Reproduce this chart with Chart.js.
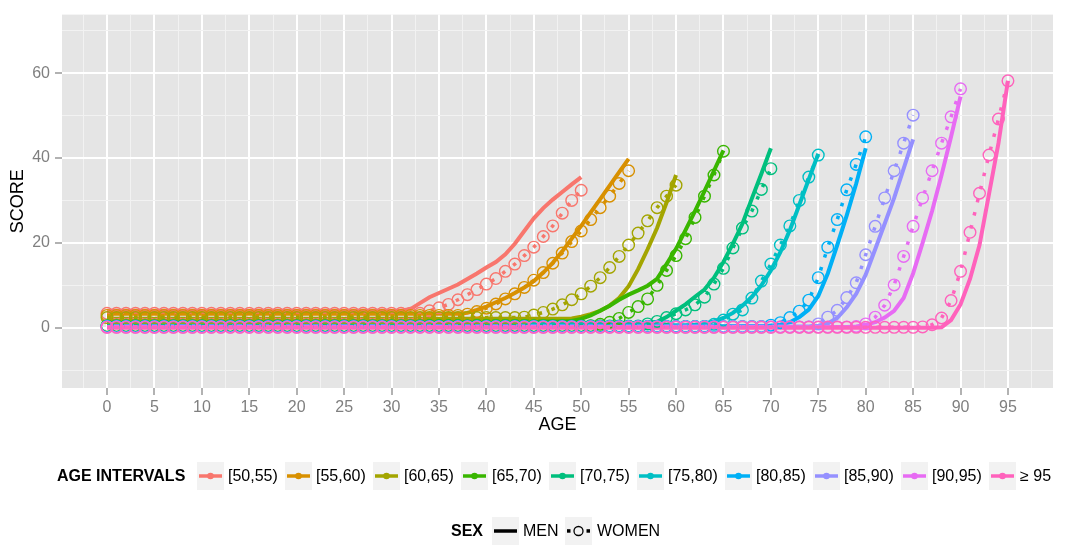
<!DOCTYPE html>
<html>
<head>
<meta charset="utf-8">
<script src="https://cdn.jsdelivr.net/npm/chart.js@4.4.0/dist/chart.umd.min.js"></script>
<style>
  body { margin: 0; background: #fff; font-family: "Liberation Sans", Arial, sans-serif; }
  #wrap { position: relative; width: 1065px; height: 545px; }
  .lg { position: absolute; font-size: 16px; color: #000; line-height: 28px; height: 28px; white-space: nowrap; }
  .lg svg { position: absolute; left: 0; top: 0; }
  .ttl { font-weight: bold; }
</style>
</head>
<body>
<div id="wrap">
  <canvas id="scoreChart" width="1065" height="545"></canvas>
</div>
<script>
// age groups and ggplot hue colours
const intervals = ['[50,55)', '[55,60)', '[60,65)', '[65,70)', '[70,75)', '[75,80)', '[80,85)', '[85,90)', '[90,95)', '≥ 95'];
const colors = ['#F8766D', '#D89000', '#A3A500', '#39B600', '#00BF7D', '#00BFC4', '#00B0F6', '#9590FF', '#E76BF3', '#FF62BC'];

// men: flat score from age 0, first age off the flat part, then one value per year up to the end age
const menFlat = [4.0, 3.3, 2.1, 1.5, 1.0, 0.6, 0.4, 0.3, 0.2, 0.0];
const menRiseFrom = [32, 38, 49, 49, 57, 62, 70, 75, 79, 88];
const menRise = [
  [4.4, 5.8, 7.2, 8.2, 9.2, 10.2, 11.5, 12.8, 14.2, 15.5, 17.3, 19.8, 22.8, 25.8, 28.2, 30.2, 32.0, 33.8, 35.5],
  [3.5, 4.2, 5.0, 6.0, 7.0, 8.2, 9.5, 11.0, 13.0, 15.3, 18.0, 21.0, 24.0, 27.2, 30.3, 33.5, 36.7, 39.8],
  [2.2, 2.6, 3.2, 4.0, 5.2, 7.0, 9.8, 13.8, 18.5, 23.5, 29.5, 36.0],
  [1.6, 2.1, 2.9, 4.0, 5.2, 6.6, 7.8, 8.8, 9.9, 11.5, 15.0, 18.6, 23.0, 27.5, 32.2, 37.0, 41.8],
  [1.1, 1.4, 2.5, 4.0, 5.5, 7.3, 9.0, 11.8, 15.5, 19.8, 24.5, 30.5, 36.3, 42.3],
  [0.7, 1.0, 1.5, 2.3, 3.5, 5.2, 7.3, 10.0, 13.5, 17.8, 23.0, 29.0, 35.0, 41.0],
  [0.5, 0.7, 1.3, 2.5, 4.3, 7.5, 12.8, 19.5, 26.5, 34.0, 42.3],
  [0.5, 1.0, 2.3, 4.8, 8.0, 12.5, 18.5, 24.5, 30.6, 37.5, 44.4],
  [0.3, 0.7, 1.3, 2.4, 4.0, 7.0, 12.8, 20.0, 27.5, 36.0, 45.0, 54.5],
  [0.1, 1.8, 5.5, 11.5, 19.5, 31.5, 43.5, 58.2]
];

// women: same layout
const womenFlat = [3.4, 2.9, 2.4, 0.5, 0.4, 0.3, 0.3, 0.2, 0.2, 0.1];
const womenRiseFrom = [34, 38, 44, 52, 57, 64, 70, 75, 79, 86];
const womenRise = [
  [4.0, 4.7, 5.5, 6.6, 7.8, 9.0, 10.3, 11.6, 13.3, 15.0, 17.0, 19.0, 21.5, 24.0, 27.0, 30.0, 32.4],
  [3.2, 3.8, 4.6, 5.6, 6.8, 8.0, 9.5, 11.2, 13.0, 15.2, 17.6, 20.3, 22.8, 25.5, 28.3, 31.0, 34.0, 37.0],
  [2.5, 3.0, 3.6, 4.4, 5.4, 6.6, 8.0, 9.8, 11.8, 14.2, 16.8, 19.5, 22.3, 25.2, 28.3, 31.0, 33.6],
  [0.8, 1.3, 2.2, 3.6, 5.0, 6.8, 10.0, 13.5, 17.0, 21.0, 26.0, 31.0, 36.0, 41.6],
  [0.9, 1.5, 2.4, 3.3, 4.2, 5.4, 7.2, 10.3, 14.0, 18.8, 23.5, 27.5, 32.6, 37.5],
  [0.8, 1.8, 3.2, 4.2, 7.0, 11.0, 15.0, 19.5, 24.0, 30.0, 35.5, 40.7],
  [0.6, 1.2, 2.4, 3.9, 6.5, 11.8, 19.0, 25.5, 32.5, 38.5, 45.0],
  [0.9, 2.5, 4.1, 7.1, 10.6, 17.2, 23.9, 30.6, 37.0, 43.5, 50.1],
  [0.3, 0.9, 2.5, 5.3, 10.1, 16.8, 23.9, 30.6, 37.0, 43.5, 49.7, 56.3],
  [0.2, 0.7, 2.3, 6.4, 13.3, 22.5, 31.7, 40.7, 49.2, 58.2]
];

const xTickLabels = [0, 5, 10, 15, 20, 25, 30, 35, 40, 45, 50, 55, 60, 65, 70, 75, 80, 85, 90, 95];
const yTickLabels = [0, 20, 40, 60];

function toPoints(flat, from, rise) {
  const pts = [];
  for (let age = 0; age < from; age++) pts.push({ x: age, y: flat });
  rise.forEach((v, i) => pts.push({ x: from + i, y: v }));
  return pts;
}

// major grid at labelled ticks, minor halfway between
const xGrid = [];
xTickLabels.forEach(v => { xGrid.push(v - 2.5, v); });
xGrid.push(97.5);
const yGrid = [];
yTickLabels.forEach(v => { yGrid.push(v - 10, v); });
yGrid.push(70);

const datasets = [];
intervals.forEach((name, i) => {
  datasets.push({
    label: name + ' MEN',
    data: toPoints(menFlat[i], menRiseFrom[i], menRise[i]),
    borderColor: colors[i],
    borderWidth: 4,
    pointRadius: 0,
    tension: 0,
    order: 100 - i
  });
  datasets.push({
    label: name + ' WOMEN',
    data: toPoints(womenFlat[i], womenRiseFrom[i], womenRise[i]),
    borderColor: colors[i],
    borderWidth: 3.5,
    borderDash: [3.5, 10],
    borderCapStyle: 'butt',
    pointRadius: 5.8,
    pointBorderWidth: 1.4,
    pointBorderColor: colors[i],
    pointBackgroundColor: 'rgba(0,0,0,0)',
    tension: 0,
    order: 50 - i
  });
});

const panelBg = {
  id: 'panelBg',
  beforeDraw(chart) {
    const { ctx, chartArea: a } = chart;
    ctx.save();
    ctx.fillStyle = '#E5E5E5';
    ctx.fillRect(a.left, a.top, a.right - a.left, a.bottom - a.top);
    ctx.restore();
  }
};

function gridStyle(labels) {
  return {
    color: c => labels.includes(c.tick.value) ? '#FFFFFF' : '#F2F2F2',
    lineWidth: c => labels.includes(c.tick.value) ? 2 : 1,
    tickColor: c => labels.includes(c.tick.value) ? '#7F7F7F' : 'rgba(0,0,0,0)',
    tickWidth: 1.2,
    tickLength: 7
  };
}

new Chart(document.getElementById('scoreChart').getContext('2d'), {
  type: 'line',
  data: { datasets },
  options: {
    responsive: false,
    animation: false,
    layout: { padding: { left: 0, top: 5, right: 12, bottom: 109 } },
    plugins: { legend: { display: false }, tooltip: { enabled: false } },
    scales: {
      x: {
        type: 'linear',
        min: -4.75,
        max: 99.75,
        afterBuildTicks: s => { s.ticks = xGrid.map(v => ({ value: v })); },
        afterFit: s => { s.height = 48; },
        ticks: {
          autoSkip: false,
          maxRotation: 0,
          padding: 3,
          color: '#7F7F7F',
          font: { family: 'Liberation Sans', size: 16 },
          callback: v => xTickLabels.includes(v) ? String(v) : ''
        },
        grid: gridStyle(xTickLabels),
        border: { display: false },
        title: { display: true, text: 'AGE', color: '#000', font: { family: 'Liberation Sans', size: 18 }, padding: { top: 0, bottom: 0 } }
      },
      y: {
        min: -14.2,
        max: 73.8,
        afterBuildTicks: s => { s.ticks = yGrid.map(v => ({ value: v })); },
        afterFit: s => { s.width = 62; },
        ticks: {
          autoSkip: false,
          padding: 5,
          color: '#7F7F7F',
          font: { family: 'Liberation Sans', size: 16 },
          callback: v => yTickLabels.includes(v) ? String(v) : ''
        },
        grid: gridStyle(yTickLabels),
        border: { display: false },
        title: { display: true, text: 'SCORE', color: '#000', font: { family: 'Liberation Sans', size: 18 }, padding: { top: 7.5, bottom: 0 } }
      }
    }
  },
  plugins: [panelBg]
});

// legends below the panel
const wrap = document.getElementById('wrap');
function addText(text, left, top, bold) {
  const d = document.createElement('div');
  d.className = 'lg' + (bold ? ' ttl' : '');
  d.style.left = left + 'px';
  d.style.top = top + 'px';
  d.textContent = text;
  wrap.appendChild(d);
}
function addKey(inner, left, top) {
  const d = document.createElement('div');
  d.className = 'lg';
  d.style.left = left + 'px';
  d.style.top = top + 'px';
  d.style.width = '27px';
  d.innerHTML = '<svg width="27" height="28"><rect width="27" height="28" fill="#F2F2F2"/>' + inner + '</svg>';
  wrap.appendChild(d);
}

addText('AGE INTERVALS', 57, 462, true);
intervals.forEach((name, i) => {
  const left = 197 + 88 * i;
  addKey('<line x1="2" y1="14" x2="25" y2="14" stroke="' + colors[i] + '" stroke-width="3.5"/>' +
         '<circle cx="13.5" cy="14" r="3.3" fill="' + colors[i] + '"/>', left, 462);
  addText(name, left + 31, 462, false);
});

addText('SEX', 451, 517, true);
addKey('<line x1="2" y1="14" x2="25" y2="14" stroke="#000" stroke-width="3.5"/>', 492, 517);
addText('MEN', 523, 517, false);
addKey('<rect x="2" y="12.2" width="3.5" height="3.5" fill="#000"/><rect x="21.5" y="12.2" width="3.5" height="3.5" fill="#000"/>' +
       '<circle cx="13.5" cy="14" r="4.5" fill="none" stroke="#000" stroke-width="1.3"/>', 565, 517);
addText('WOMEN', 597, 517, false);
</script>
</body>
</html>
